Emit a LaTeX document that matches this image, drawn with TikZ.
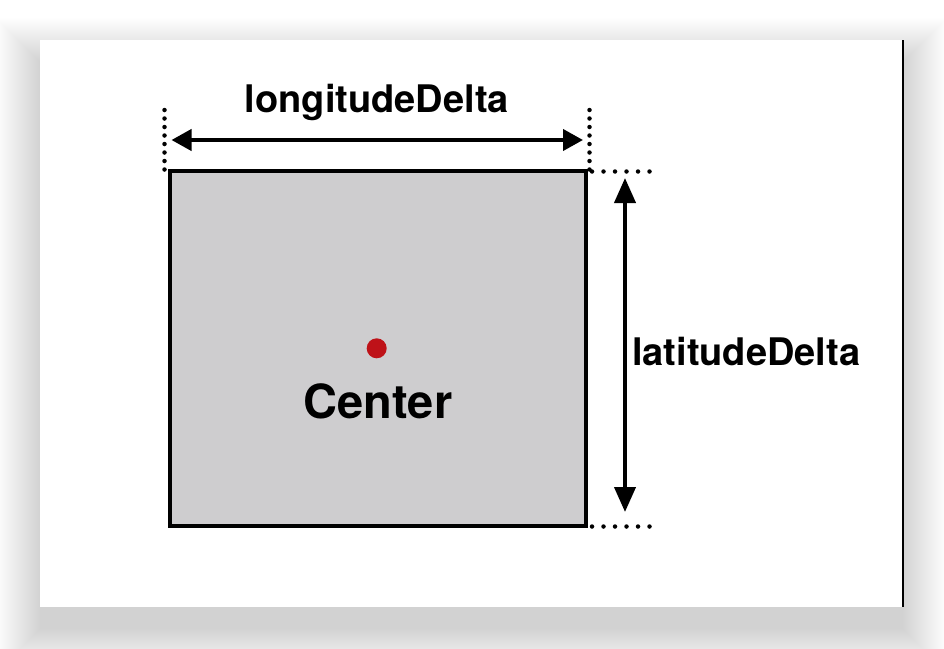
\documentclass[tikz,border=0pt]{standalone}
\usepackage{fontspec}
\setmainfont{TeX Gyre Heros}
\usetikzlibrary{arrows.meta}

\definecolor{regiongray}{RGB}{206,205,207}
\definecolor{centerred}{RGB}{190,18,24}

\tikzset{
  region/.style={draw=black, line width=4pt, fill=regiongray, minimum width=416pt, minimum height=355pt, inner sep=0pt},
  centerdot/.style={circle, fill=centerred, minimum size=20pt, inner sep=0pt},
  deltalabel/.style={font=\bfseries\fontsize{38}{44}\selectfont, inner sep=0pt},
  centerlabel/.style={font=\bfseries\fontsize{47}{54}\selectfont, inner sep=0pt},
  vguide/.style={line width=4.5pt, line cap=round, dash pattern=on 0pt off 8.5pt},
  hguide/.style={line width=4.5pt, line cap=round, dash pattern=on 0pt off 11.5pt},
  hspan/.style={line width=4pt, {Triangle[length=20pt,width=21pt]}-{Triangle[length=20pt,width=21pt]}},
  vspan/.style={line width=4pt, {Triangle[length=25pt,width=21pt]}-{Triangle[length=25pt,width=21pt]}}
}

\begin{document}
\begin{tikzpicture}[x=1pt, y=-1pt]
  \useasboundingbox (0, 0) rectangle (944, 648);
  \fill[white] (0, 0) rectangle (944, 648);

  % card shadow
  \foreach \i in {0,...,44}{
    \fill[black, opacity=0.0055] (40-\i, 62-\i) rectangle (903+\i, 629+\i);
  }

  % card
  \fill[white] (40, 40) rectangle (903, 607);
  \draw[line width=1.5pt] (903, 40) -- (903, 607);

  % region and center
  \node[region] (region) at (377.5, 348) {};
  \node[centerdot] (center) at (376.7, 348.3) {};
  \node[centerlabel, anchor=base] (centertext) at (378, 418) {Center};

  % labels
  \node[deltalabel, anchor=base] (lontext) at (377, 112) {longitudeDelta};
  \node[deltalabel, anchor=base west] (lattext) at (632, 365) {latitudeDelta};

  % dotted guides
  \coordinate (westtop) at (164.5, 110);
  \coordinate (westbot) at (164.5, 171);
  \coordinate (easttop) at (589.5, 110);
  \coordinate (eastbot) at (589.5, 171);
  \coordinate (northleft) at (592, 171.5);
  \coordinate (northright) at (655, 171.5);
  \coordinate (southleft) at (592, 526.5);
  \coordinate (southright) at (655, 526.5);

  \foreach \a / \b in {westtop/westbot, easttop/eastbot}{
    \draw[vguide] (\a) -- (\b);
  }
  \foreach \a / \b in {northleft/northright, southleft/southright}{
    \draw[hguide] (\a) -- (\b);
  }

  % delta arrows
  \coordinate (lonstart) at (171.5, 140);
  \coordinate (lonend) at (583, 140);
  \coordinate (latstart) at (625, 178);
  \coordinate (latend) at (625, 512);

  \draw[hspan] (lonstart) -- (lonend);
  \draw[vspan] (latstart) -- (latend);
\end{tikzpicture}
\end{document}
